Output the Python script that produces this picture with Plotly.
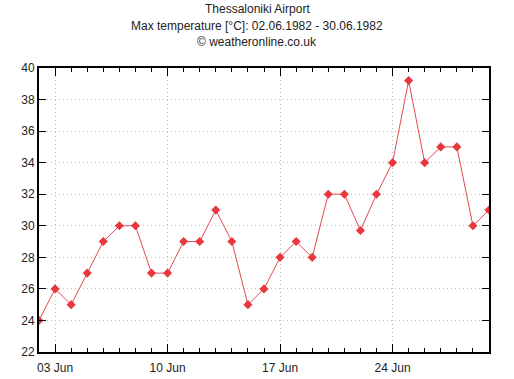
import plotly.graph_objects as go
import pandas as pd

dates = pd.date_range("1982-06-02", "1982-06-30", freq="D")
temps = [24, 26, 25, 27, 29, 30, 30, 27, 27, 29, 29, 31, 29, 25, 26, 28, 29, 28,
         32, 32, 29.7, 32, 34, 39.2, 34, 35, 35, 30, 31]
title_lines = ["Thessaloniki Airport",
               "Max temperature [°C]: 02.06.1982 - 30.06.1982",
               "© weatheronline.co.uk"]
xtick_vals = ["1982-06-03", "1982-06-10", "1982-06-17", "1982-06-24"]
xtick_text = ["03 Jun", "10 Jun", "17 Jun", "24 Jun"]
ytick_vals = [22, 24, 26, 28, 30, 32, 34, 36, 38, 40]

W, H = 514, 379
L, T, R, B = 39, 68, 25, 27
PW = W - L - R

fig = go.Figure()
fig.add_trace(go.Scatter(
    x=dates, y=temps, mode="lines+markers",
    line=dict(color="#e24a4e", width=1),
    marker=dict(symbol="diamond", size=7, color="#e8383d"),
    hoverinfo="skip", showlegend=False))

fig.update_layout(
    width=W, height=H,
    margin=dict(l=L, r=R, t=T, b=B),
    paper_bgcolor="white", plot_bgcolor="white",
    font=dict(family="Liberation Sans, Arial, sans-serif", size=12, color="#222"),
    showlegend=False,
)

for txt, py in zip(title_lines, [9, 26, 42]):
    fig.add_annotation(text=txt, xref="paper", yref="paper",
                       x=(257 - L) / PW, y=1, yanchor="middle", xanchor="center",
                       yshift=T - py, showarrow=False,
                       font=dict(size=12, color="#222"))

fig.update_xaxes(
    range=[dates[0], dates[-1]], automargin=False,
    tickmode="array", tickvals=xtick_vals, ticktext=xtick_text,
    ticks="inside", ticklen=8, tickwidth=1, tickcolor="black",
    ticklabelstandoff=4,
    showline=True, linecolor="black", linewidth=2, mirror="ticks",
    showgrid=True, gridcolor="#bdbdbd", griddash="1px,3px", gridwidth=1,
    zeroline=False,
    minor=dict(dtick=86400000, tick0="1982-06-02", ticks="inside", ticklen=4,
               tickcolor="black", tickwidth=1, showgrid=False),
)
fig.update_yaxes(
    range=[22, 40], automargin=False,
    tickmode="array", tickvals=ytick_vals,
    ticks="inside", ticklen=7, tickwidth=1, tickcolor="black",
    showline=True, linecolor="black", linewidth=2, mirror="ticks",
    showgrid=True, gridcolor="#bdbdbd", griddash="1px,3px", gridwidth=1,
    zeroline=False,
)

fig.write_html("out.html", config={"displayModeBar": False},
               post_script="document.body.style.margin='0';")
